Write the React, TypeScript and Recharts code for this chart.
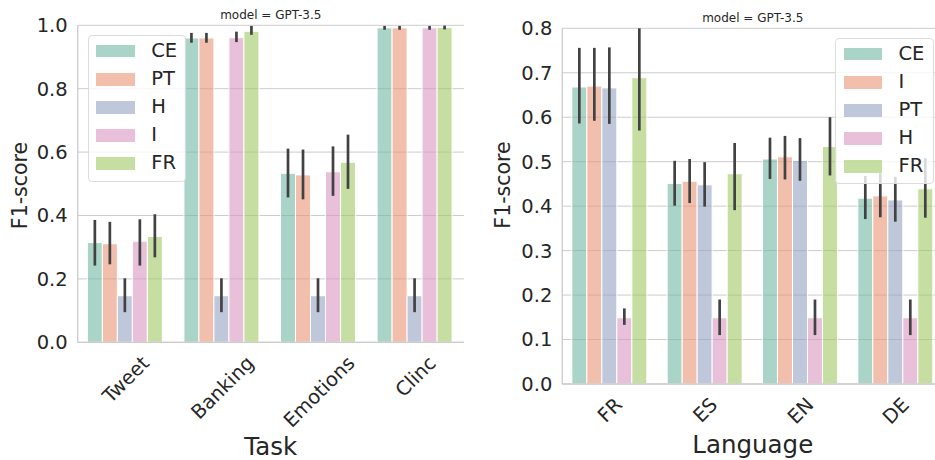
import React from 'react';
import { BarChart, Bar, XAxis, YAxis, CartesianGrid, ErrorBar, Legend, Customized } from 'recharts';

const FONT = '"DejaVu Sans", Verdana, sans-serif';
const TEXT = '#262626';
const GRID = '#cccccc';
const ERR = '#424242';
const PALETTE = ['#72b7a1', '#e99575', '#95a3c3', '#db96c0', '#a2c865'];
const ALPHA = 0.6;
const TITLE = 'model = GPT-3.5';

// ---------- left panel: Task ----------
const tasks = ['Tweet', 'Banking', 'Emotions', 'Clinc'];
const taskSeries = ['CE', 'PT', 'H', 'I', 'FR'];
const taskCE = [0.315, 0.960, 0.533, 0.992];
const taskCELow = [0.242, 0.945, 0.457, 0.986];
const taskCEHigh = [0.386, 0.976, 0.611, 0.998];
const taskPT = [0.311, 0.960, 0.528, 0.992];
const taskPTLow = [0.246, 0.945, 0.451, 0.986];
const taskPTHigh = [0.380, 0.976, 0.608, 0.998];
const taskH = [0.147, 0.147, 0.147, 0.147];
const taskHLow = [0.095, 0.095, 0.095, 0.095];
const taskHHigh = [0.202, 0.202, 0.202, 0.202];
const taskI = [0.319, 0.961, 0.538, 0.992];
const taskILow = [0.242, 0.947, 0.462, 0.986];
const taskIHigh = [0.388, 0.980, 0.618, 0.998];
const taskFR = [0.334, 0.981, 0.568, 0.993];
const taskFRLow = [0.268, 0.970, 0.484, 0.987];
const taskFRHigh = [0.404, 0.998, 0.655, 0.999];
const taskTicks = [0, 0.2, 0.4, 0.6, 0.8, 1.0];

// ---------- right panel: Language ----------
const languages = ['FR', 'ES', 'EN', 'DE'];
const langSeries = ['CE', 'I', 'PT', 'H', 'FR'];
const langCE = [0.668, 0.451, 0.506, 0.418];
const langCELow = [0.586, 0.401, 0.461, 0.371];
const langCEHigh = [0.756, 0.502, 0.554, 0.468];
const langI = [0.670, 0.456, 0.511, 0.423];
const langILow = [0.592, 0.407, 0.460, 0.375];
const langIHigh = [0.756, 0.506, 0.558, 0.474];
const langPT = [0.666, 0.448, 0.503, 0.414];
const langPTLow = [0.585, 0.399, 0.457, 0.365];
const langPTHigh = [0.757, 0.499, 0.553, 0.466];
const langH = [0.149, 0.149, 0.149, 0.149];
const langHLow = [0.133, 0.110, 0.110, 0.110];
const langHHigh = [0.170, 0.190, 0.190, 0.190];
const langFR = [0.689, 0.473, 0.534, 0.439];
const langFRLow = [0.570, 0.391, 0.469, 0.374];
const langFRHigh = [0.800, 0.542, 0.600, 0.508];
const langTicks = [0, 0.1, 0.2, 0.3, 0.4, 0.5, 0.6, 0.7, 0.8];

function buildRows(cats: string[], names: string[], vals: number[][], lows: number[][], highs: number[][]) {
  return cats.map((c, i) => {
    const row: any = { cat: c };
    names.forEach((n, k) => {
      row['s' + k] = vals[k][i];
      row['e' + k] = [vals[k][i] - lows[k][i], highs[k][i] - vals[k][i]];
    });
    return row;
  });
}

const taskRows = buildRows(
  tasks,
  taskSeries,
  [taskCE, taskPT, taskH, taskI, taskFR],
  [taskCELow, taskPTLow, taskHLow, taskILow, taskFRLow],
  [taskCEHigh, taskPTHigh, taskHHigh, taskIHigh, taskFRHigh]
);
const langRows = buildRows(
  languages,
  langSeries,
  [langCE, langI, langPT, langH, langFR],
  [langCELow, langILow, langPTLow, langHLow, langFRLow],
  [langCEHigh, langIHigh, langPTHigh, langHHigh, langFRHigh]
);

let ctx: CanvasRenderingContext2D | null = null;
function measure(t: string, size: number) {
  if (!ctx) ctx = document.createElement('canvas').getContext('2d');
  if (!ctx) return t.length * size * 0.6;
  ctx.font = `${size}px ${FONT}`;
  return ctx.measureText(t).width;
}

const TICK_FS = 19.5;

const XTick = (props: any) => {
  const { x, y, payload } = props;
  const label = String(payload.value);
  const w = measure(label, TICK_FS);
  const h = TICK_FS * 1.15;
  const half = ((w + h) * Math.SQRT1_2) / 2;
  const cy = y + 9.5 + half;
  return (
    <text
      x={x}
      y={cy}
      textAnchor="middle"
      dominantBaseline="central"
      fontSize={TICK_FS}
      fill={TEXT}
      fontFamily={FONT}
      transform={`rotate(-45 ${x} ${cy})`}
    >
      {label}
    </text>
  );
};

const makeLegend = (names: string[]) => () => (
  <div
    style={{
      boxSizing: 'border-box',
      width: '100%',
      height: '100%',
      background: 'rgba(255,255,255,0.8)',
      border: '1px solid #dcdcdc',
      borderRadius: 4,
      position: 'relative',
      fontFamily: FONT,
    }}
  >
    {names.map((n, i) => {
      const cy = 15 + i * 28.05;
      return (
        <React.Fragment key={n + i}>
          <div
            style={{
              position: 'absolute',
              left: 7.5,
              top: cy - 6.5,
              width: 38.5,
              height: 12.7,
              background: PALETTE[i],
              opacity: ALPHA,
            }}
          />
          <div
            style={{
              position: 'absolute',
              left: 62.5,
              top: cy - 11,
              height: 22,
              lineHeight: '22px',
              fontSize: TICK_FS,
              color: TEXT,
              whiteSpace: 'nowrap',
            }}
          >
            {n}
          </div>
        </React.Fragment>
      );
    })}
  </div>
);

type TextsProps = { cx: number; titleY: number; xLabel: string; xLabelY: number; yLabelX: number; yLabelY: number };
const makeTexts = (p: TextsProps) => () => (
  <g fontFamily={FONT} fill={TEXT}>
    <text x={p.cx} y={p.titleY} textAnchor="middle" fontSize={12} fill={TEXT} fontFamily={FONT}>
      {TITLE}
    </text>
    <text x={p.cx} y={p.xLabelY} textAnchor="middle" fontSize={24.5} fill={TEXT} fontFamily={FONT}>
      {p.xLabel}
    </text>
    <text
      x={p.yLabelX}
      y={p.yLabelY}
      textAnchor="middle"
      fontSize={20.5}
      fill={TEXT}
      fontFamily={FONT}
      transform={`rotate(-90 ${p.yLabelX} ${p.yLabelY})`}
    >
      {'F1-score'}
    </text>
  </g>
);

const LeftTexts = makeTexts({ cx: 270.8, titleY: 18.5, xLabel: 'Task', xLabelY: 455, yLabelX: 27, yLabelY: 185.5 });
const RightTexts = makeTexts({ cx: 282.8, titleY: 21.8, xLabel: 'Language', xLabelY: 452.5, yLabelX: 40, yLabelY: 185 });
const LeftLegend = makeLegend(taskSeries);
const RightLegend = makeLegend(langSeries);

function Panel(props: {
  rows: any[];
  names: string[];
  width: number;
  margin: any;
  domainMax: number;
  ticks: number[];
  Texts: any;
  LegendContent: any;
  legendStyle: any;
}) {
  const { rows, names, width, margin, domainMax, ticks, Texts, LegendContent, legendStyle } = props;
  return (
    <BarChart
      width={width}
      height={460}
      data={rows}
      margin={margin}
      barCategoryGap="10%"
      barGap={0}
      style={{ fontFamily: FONT }}
    >
      <CartesianGrid horizontal vertical={false} stroke={GRID} strokeWidth={1} />
      <XAxis
        dataKey="cat"
        height={60}
        tickLine={false}
        tickSize={0}
        tickMargin={0}
        axisLine={{ stroke: GRID, strokeWidth: 1.3 }}
        tick={<XTick />}
        interval={0}
      />
      <YAxis
        width={60}
        type="number"
        domain={[0, domainMax]}
        allowDataOverflow
        ticks={ticks}
        tickFormatter={(v: number) => v.toFixed(1)}
        tickLine={false}
        tickSize={0}
        tickMargin={10}
        axisLine={{ stroke: GRID, strokeWidth: 1.3 }}
        tick={{ fontSize: TICK_FS, fill: TEXT, fontFamily: FONT }}
      />
      {names.map((n, k) => (
        <Bar
          key={n + k}
          dataKey={'s' + k}
          name={n}
          fill={PALETTE[k]}
          fillOpacity={ALPHA}
          stroke="#ffffff"
          strokeWidth={1}
          isAnimationActive={false}
        >
          <ErrorBar dataKey={'e' + k} width={0} stroke={ERR} strokeWidth={2.7} direction="y" isAnimationActive={false} />
        </Bar>
      ))}
      <Legend
        content={<LegendContent />}
        layout="vertical"
        align="center"
        verticalAlign="middle"
        wrapperStyle={legendStyle}
      />
      <Customized component={Texts} />
    </BarChart>
  );
}

export default function App() {
  return (
    <div
      style={{
        position: 'absolute',
        left: 0,
        top: 0,
        width: 935,
        height: 460,
        overflow: 'hidden',
        background: '#ffffff',
      }}
    >
      <div style={{ position: 'absolute', left: 0, top: 0 }}>
        <Panel
          rows={taskRows}
          names={taskSeries}
          width={470}
          margin={{ top: 25.3, right: 6, bottom: 57.7, left: 17.7 }}
          domainMax={1.0}
          ticks={taskTicks}
          Texts={LeftTexts}
          LegendContent={LeftLegend}
          legendStyle={{ left: 87.7, top: 35.3, width: 98.3, height: 146.4, margin: 0 }}
        />
      </div>
      <div style={{ position: 'absolute', left: 470, top: 0 }}>
        <Panel
          rows={langRows}
          names={langSeries}
          width={480}
          margin={{ top: 28.3, right: 6.4, bottom: 16, left: 32.3 }}
          domainMax={0.8}
          ticks={langTicks}
          Texts={RightTexts}
          LegendContent={RightLegend}
          legendStyle={{ left: 365, top: 38.3, width: 99, height: 145.7, margin: 0 }}
        />
      </div>
    </div>
  );
}
